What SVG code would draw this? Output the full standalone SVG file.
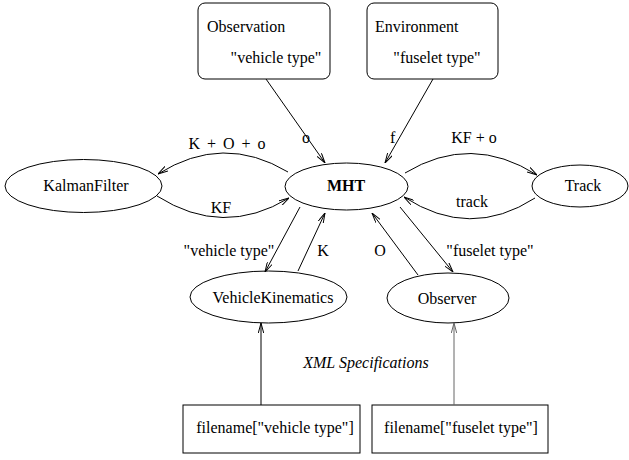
<svg xmlns="http://www.w3.org/2000/svg" width="629" height="460" viewBox="0 0 629 460">
<style>
text{font-family:"Liberation Serif","Times New Roman",serif;font-size:16px;fill:#000}
.m{text-anchor:middle}
.n{fill:none;stroke:#000;stroke-width:1}
.c{fill:none;stroke:#000;stroke-width:1;marker-end:url(#ah)}
</style>
<defs>
<marker id="ah" viewBox="0 0 10 6" refX="10" refY="3" markerWidth="10" markerHeight="6" markerUnits="userSpaceOnUse" orient="auto">
<path d="M0,0.3 L10,3 L0,5.7" fill="none" stroke="#000" stroke-width="1"/>
</marker>
<marker id="ahg" viewBox="0 0 10 6" refX="10" refY="3" markerWidth="10" markerHeight="6" markerUnits="userSpaceOnUse" orient="auto">
<path d="M0,0.3 L10,3 L0,5.7" fill="none" stroke="#666" stroke-width="1"/>
</marker>
</defs>
<rect width="629" height="460" fill="#fff"/>
<g id="observation">
<rect class="n" x="198" y="3" width="132" height="76" rx="7"/>
<text x="207" y="32">Observation</text>
<text class="m" x="276" y="63">"vehicle type"</text>
</g>
<g id="environment">
<rect class="n" x="367" y="3" width="131" height="76" rx="7"/>
<text x="375" y="32">Environment</text>
<text class="m" x="437" y="63">"fuselet type"</text>
</g>
<g id="mht">
<ellipse class="n" cx="346.5" cy="186.5" rx="61.5" ry="23.5"/>
<text class="m" x="346" y="191" font-weight="bold">MHT</text>
</g>
<g id="kalmanfilter">
<ellipse class="n" cx="83.5" cy="186" rx="78.5" ry="26.5"/>
<text class="m" x="86" y="191">KalmanFilter</text>
</g>
<g id="track">
<ellipse class="n" cx="580" cy="186" rx="48" ry="21"/>
<text class="m" x="583" y="191">Track</text>
</g>
<g id="vehiclekinematics">
<ellipse class="n" cx="268.5" cy="297" rx="78.5" ry="26"/>
<text class="m" x="273" y="303">VehicleKinematics</text>
</g>
<g id="observer">
<ellipse class="n" cx="448" cy="298" rx="61" ry="25"/>
<text class="m" x="447" y="304">Observer</text>
</g>
<g id="file-vehicle">
<rect class="n" x="183" y="405" width="177" height="48"/>
<text class="m" x="275" y="433">filename["vehicle type"]</text>
</g>
<g id="file-fuselet">
<rect class="n" x="372" y="405" width="176" height="48"/>
<text class="m" x="461" y="433">filename["fuselet type"]</text>
</g>
<g id="connectors">
<path class="c" d="M266,79 L325,163"/>
<path class="c" d="M433,79 L385,163"/>
<path class="c" d="M288,172 Q223,133 158,174"/>
<path class="c" d="M157,196 Q223,238 289,198"/>
<path class="c" d="M405,173 Q471,133 537,175"/>
<path class="c" d="M535,198 Q470,240 404,197"/>
<path class="c" d="M300,207 L265,272"/>
<path class="c" d="M298,271 L325,213"/>
<path class="c" d="M418,275 L372,213"/>
<path class="c" d="M400,207 L453,272"/>
<path class="c" d="M261,405 L261,323"/>
<path d="M454,405 L454,323" fill="none" stroke="#666" stroke-width="1" marker-end="url(#ahg)"/>
</g>
<g id="labels">
<text x="302" y="143">o</text>
<text x="390" y="143">f</text>
<text class="m" x="227" y="149" word-spacing="3">K + O + o</text>
<text class="m" x="221" y="213">KF</text>
<text class="m" x="474" y="143">KF + o</text>
<text class="m" x="472" y="207">track</text>
<text class="m" x="229" y="256">"vehicle type"</text>
<text class="m" x="323" y="256">K</text>
<text class="m" x="380" y="256">O</text>
<text class="m" x="490" y="256">"fuselet type"</text>
<text class="m" x="366" y="368" font-style="italic">XML Specifications</text>
</g>
</svg>
